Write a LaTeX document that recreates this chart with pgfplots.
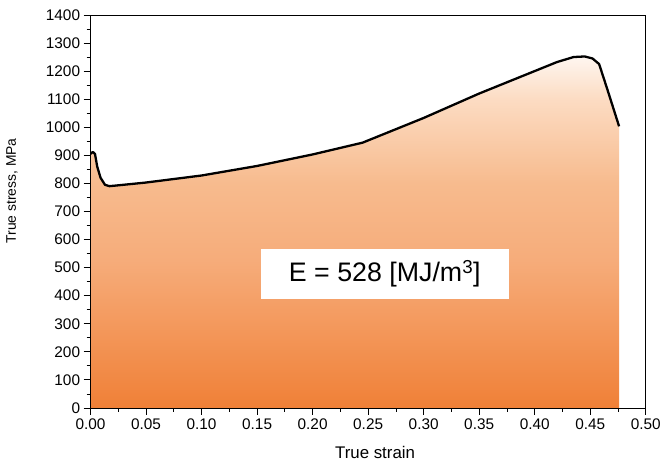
\documentclass[border=0pt]{standalone}
\usepackage{fontspec}
\setmainfont{Liberation Sans}
\usepackage{pgfplots}
\pgfplotsset{compat=1.18}
\definecolor{c0}{RGB}{240,128,55}
\definecolor{c1}{RGB}{246,172,122}
\definecolor{c2}{RGB}{247,187,142}
\definecolor{c3}{RGB}{252,220,195}
\definecolor{c4}{RGB}{254,246,240}
\pgfdeclareverticalshading{strshade}{100bp}{color(0bp)=(c0); color(25bp)=(c0); color(46bp)=(c1); color(57bp)=(c2); color(69bp)=(c3); color(75bp)=(c4); color(100bp)=(c4)}
\begin{document}
\begin{tikzpicture}
\begin{axis}[
  scale only axis, width=558bp, height=395bp,
  xmin=0, xmax=0.5, ymin=0, ymax=1400,
  xtick distance=0.05, ytick distance=100,
  minor x tick num=1, minor y tick num=1,
  tick align=outside, tick pos=left,
  major tick length=7bp, minor tick length=4bp,
  every tick/.style={black, line width=0.8pt},
  axis line style={black, line width=0.8pt},
  /pgf/number format/assume math mode=true,
  tick label style={font=\fontsize{15.5}{17}\selectfont},
  xticklabel style={/pgf/number format/.cd, fixed, fixed zerofill, precision=2},
  yticklabel style={/pgf/number format/.cd, fixed, 1000 sep={}},
  xlabel={True strain}, ylabel={True stress, MPa},
  xlabel style={at={(axis description cs:0.5125,-0.114)}, anchor=center, font=\fontsize{17}{19}\selectfont},
  ylabel style={at={(axis description cs:-0.1416,0.552)}, anchor=center, font=\fontsize{14}{16}\selectfont},
  axis on top,
]
\addplot[draw=none, shade, shading=strshade] coordinates {
(0,905)(0.002,912)(0.004,905)(0.006,860)(0.009,820)(0.013,795)(0.017,790)(0.03,795)(0.05,803)(0.1,828)(0.15,862)(0.2,903)(0.245,945)(0.27,985)(0.3,1033)(0.35,1120)(0.4,1200)(0.42,1232)(0.435,1250)(0.445,1252)(0.452,1245)(0.458,1225)(0.465,1140)(0.476,1003)
} \closedcycle;
\addplot[black, line width=2.3bp, line join=round] coordinates {
(0,905)(0.002,912)(0.004,905)(0.006,860)(0.009,820)(0.013,795)(0.017,790)(0.03,795)(0.05,803)(0.1,828)(0.15,862)(0.2,903)(0.245,945)(0.27,985)(0.3,1033)(0.35,1120)(0.4,1200)(0.42,1232)(0.435,1250)(0.445,1252)(0.452,1245)(0.458,1225)(0.465,1140)(0.476,1003)
};
\node[fill=white, minimum width=249bp, minimum height=50bp, inner sep=0pt, font=\fontsize{27}{30}\selectfont] at (axis cs:0.265,478) {E = 528 [MJ/m\textsuperscript{3}]};
\coordinate (ll) at (rel axis cs:0,0);
\coordinate (ur) at (rel axis cs:1,1);
\end{axis}
\path ([xshift=-91bp,yshift=-56bp]ll) rectangle ([xshift=15bp,yshift=15bp]ur);
\end{tikzpicture}
\end{document}
